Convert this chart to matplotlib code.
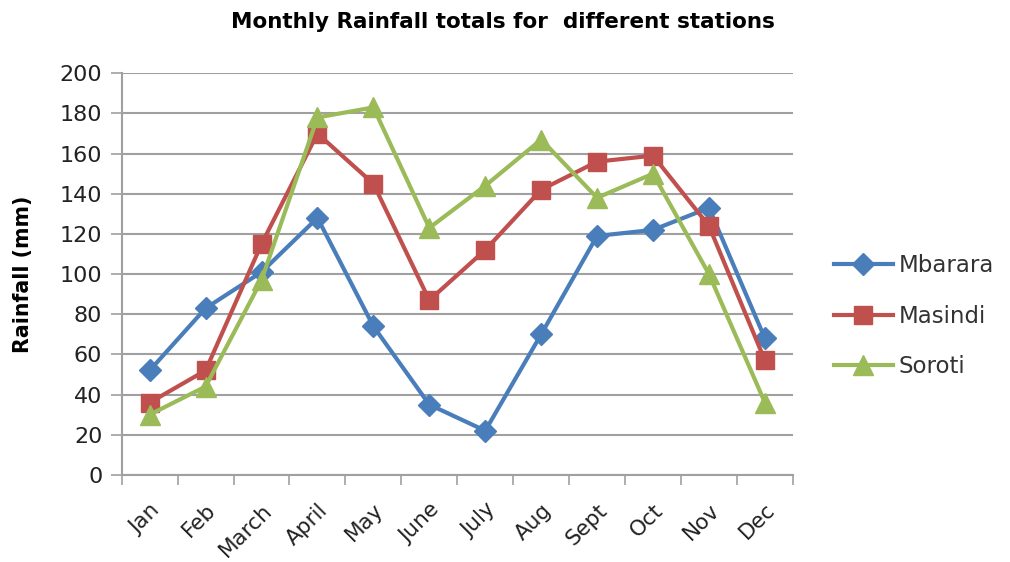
import matplotlib.pyplot as plt
import numpy as np

months = ['Jan', 'Feb', 'March', 'April', 'May', 'June', 'July', 'Aug', 'Sept', 'Oct', 'Nov', 'Dec']
mbarara = [52, 83, 101, 128, 74, 35, 22, 70, 119, 122, 133, 68]
masindi = [36, 52, 115, 170, 145, 87, 112, 142, 156, 159, 124, 57]
soroti = [30, 44, 97, 178, 183, 123, 144, 167, 138, 150, 100, 36]

fig = plt.figure(figsize=(10.1, 5.62), dpi=100)
ax = fig.add_axes([0.1205, 0.155, 0.6645, 0.7146])

x = np.arange(len(months))
ax.plot(x, mbarara, color='#4a7ebb', lw=3, marker='D', ms=11, label='Mbarara')
ax.plot(x, masindi, color='#c0504d', lw=3, marker='s', ms=13, label='Masindi')
ax.plot(x, soroti, color='#9bbb59', lw=3, marker='^', ms=14, label='Soroti')

ax.set_xlim(-0.5, len(months) - 0.5)
ax.set_ylim(0, 200)
ax.set_yticks(range(0, 201, 20))
ax.grid(axis='y', color='#a0a0a0', lw=1.5)
ax.set_axisbelow(True)

# category boundary ticks like the original
ax.set_xticks(np.arange(-0.5, len(months)), minor=False)
ax.set_xticklabels([])
ax.set_xticks(x, minor=True)
ax.set_xticklabels(months, minor=True, rotation=45, ha='right', rotation_mode='anchor',
                   fontsize=15.5, color='#222222')
ax.tick_params(axis='x', which='major', length=7, color='#a0a0a0', width=1.2)
ax.tick_params(axis='x', which='minor', length=0, pad=18)
ax.tick_params(axis='y', length=8, color='#a0a0a0', width=1.2, labelsize=16, labelcolor='#222222', pad=6)

for s in ['top', 'right']:
    ax.spines[s].set_visible(False)
for s in ['left', 'bottom']:
    ax.spines[s].set_color('#a0a0a0')
    ax.spines[s].set_linewidth(1.5)

ax.set_ylabel('Rainfall (mm)', fontsize=14.8, fontweight='bold', labelpad=19)
fig.text(0.498, 0.96, 'Monthly Rainfall totals for  different stations', ha='center', va='center',
         fontsize=15.5, fontweight='bold')

ax.legend(loc='center left', bbox_to_anchor=(1.03, 0.395), frameon=False, fontsize=16.5,
          labelspacing=1.2, handlelength=2.6, handletextpad=0.25, labelcolor='#333333')

fig.savefig('out.png', dpi=100)
